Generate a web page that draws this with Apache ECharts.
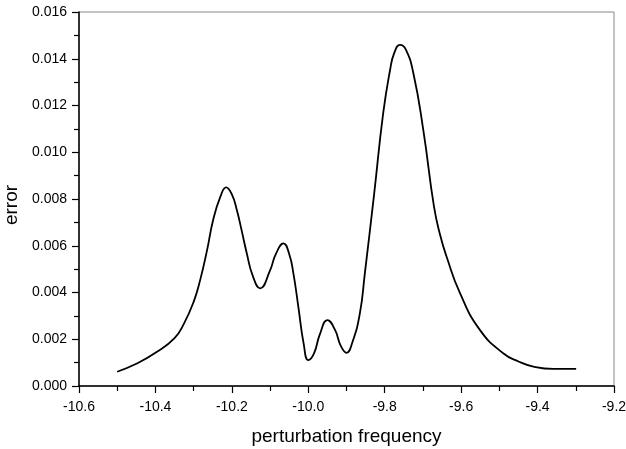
<!DOCTYPE html>
<html>
<head>
<meta charset="utf-8">
<script src="https://cdn.jsdelivr.net/npm/echarts@6/dist/echarts.min.js"></script>
<style>
  html, body { margin: 0; padding: 0; background: #fff; }
  #chart { width: 626px; height: 449px; }
</style>
</head>
<body>
<div id="chart"></div>
<script>
// values
const freq = [-10.500, -10.450, -10.400, -10.350, -10.325, -10.300, -10.283, -10.265, -10.249, -10.230,
  -10.215, -10.200, -10.187, -10.175, -10.161, -10.145, -10.126, -10.100, -10.085, -10.065,
  -10.050, -10.039, -10.026, -10.012, -10.000, -9.985, -9.970, -9.950, -9.930, -9.915,
  -9.900, -9.885, -9.865, -9.852, -9.828, -9.804, -9.786, -9.775, -9.760, -9.745,
  -9.725, -9.699, -9.671, -9.655, -9.638, -9.603, -9.551, -9.490, -9.450, -9.411,
  -9.359, -9.299];
const err = [0.00061, 0.00095, 0.00142, 0.00205, 0.00268, 0.00360, 0.00453, 0.00580, 0.00710, 0.00810,
  0.00850, 0.00820, 0.00753, 0.00670, 0.00568, 0.00470, 0.00418, 0.00495, 0.00564, 0.00610,
  0.00565, 0.00482, 0.00339, 0.00180, 0.00111, 0.00140, 0.00220, 0.00282, 0.00240, 0.00172,
  0.00142, 0.00185, 0.00311, 0.00482, 0.00817, 0.01167, 0.01352, 0.01425, 0.01459, 0.01440,
  0.01338, 0.01095, 0.00767, 0.00646, 0.00553, 0.00397, 0.00240, 0.00140, 0.00105, 0.00083,
  0.00073, 0.00073];

const chart = echarts.init(document.getElementById('chart'));
const font = "'Liberation Sans', Arial, sans-serif";

const option = {
  animation: false,
  grid: {
    left: 79, top: 12, right: 12, bottom: 63,
    outerBoundsMode: 'none', containLabel: false,
    show: true, borderColor: '#888', borderWidth: 1
  },
  xAxis: {
    type: 'value',
    min: -10.6, max: -9.2, interval: 0.2,
    name: 'perturbation frequency',
    nameLocation: 'middle', nameGap: 41,
    nameTextStyle: { fontFamily: font, fontSize: 19, color: '#000' },
    axisLine: { onZero: false, lineStyle: { color: '#000', width: 1.5 } },
    axisTick: { inside: false, length: 7, lineStyle: { color: '#000', width: 1.2 } },
    minorTick: { show: true, splitNumber: 2, length: 5, lineStyle: { color: '#000', width: 1.2 } },
    splitLine: { show: false },
    axisLabel: {
      fontFamily: font, fontSize: 14, color: '#000', margin: 14,
      formatter: v => v.toFixed(1)
    }
  },
  yAxis: {
    type: 'value',
    min: 0, max: 0.016, interval: 0.002,
    name: 'error',
    nameLocation: 'middle', nameGap: 56,
    nameTextStyle: { fontFamily: font, fontSize: 19, color: '#000', padding: [0, 12, 0, 0] },
    axisLine: { show: true, lineStyle: { color: '#000', width: 1.5 } },
    axisTick: { show: true, inside: false, length: 7, lineStyle: { color: '#000', width: 1.2 } },
    minorTick: { show: true, splitNumber: 2, length: 5, lineStyle: { color: '#000', width: 1.2 } },
    splitLine: { show: false },
    axisLabel: {
      fontFamily: font, fontSize: 14, color: '#000', margin: 12,
      formatter: v => v.toFixed(3)
    }
  },
  series: [{
    type: 'line',
    data: freq.map((f, i) => [f, err[i]]),
    smooth: 0.5,
    showSymbol: false,
    lineStyle: { color: '#000', width: 1.8 }
  }]
};
chart.setOption(option);
</script>
</body>
</html>
